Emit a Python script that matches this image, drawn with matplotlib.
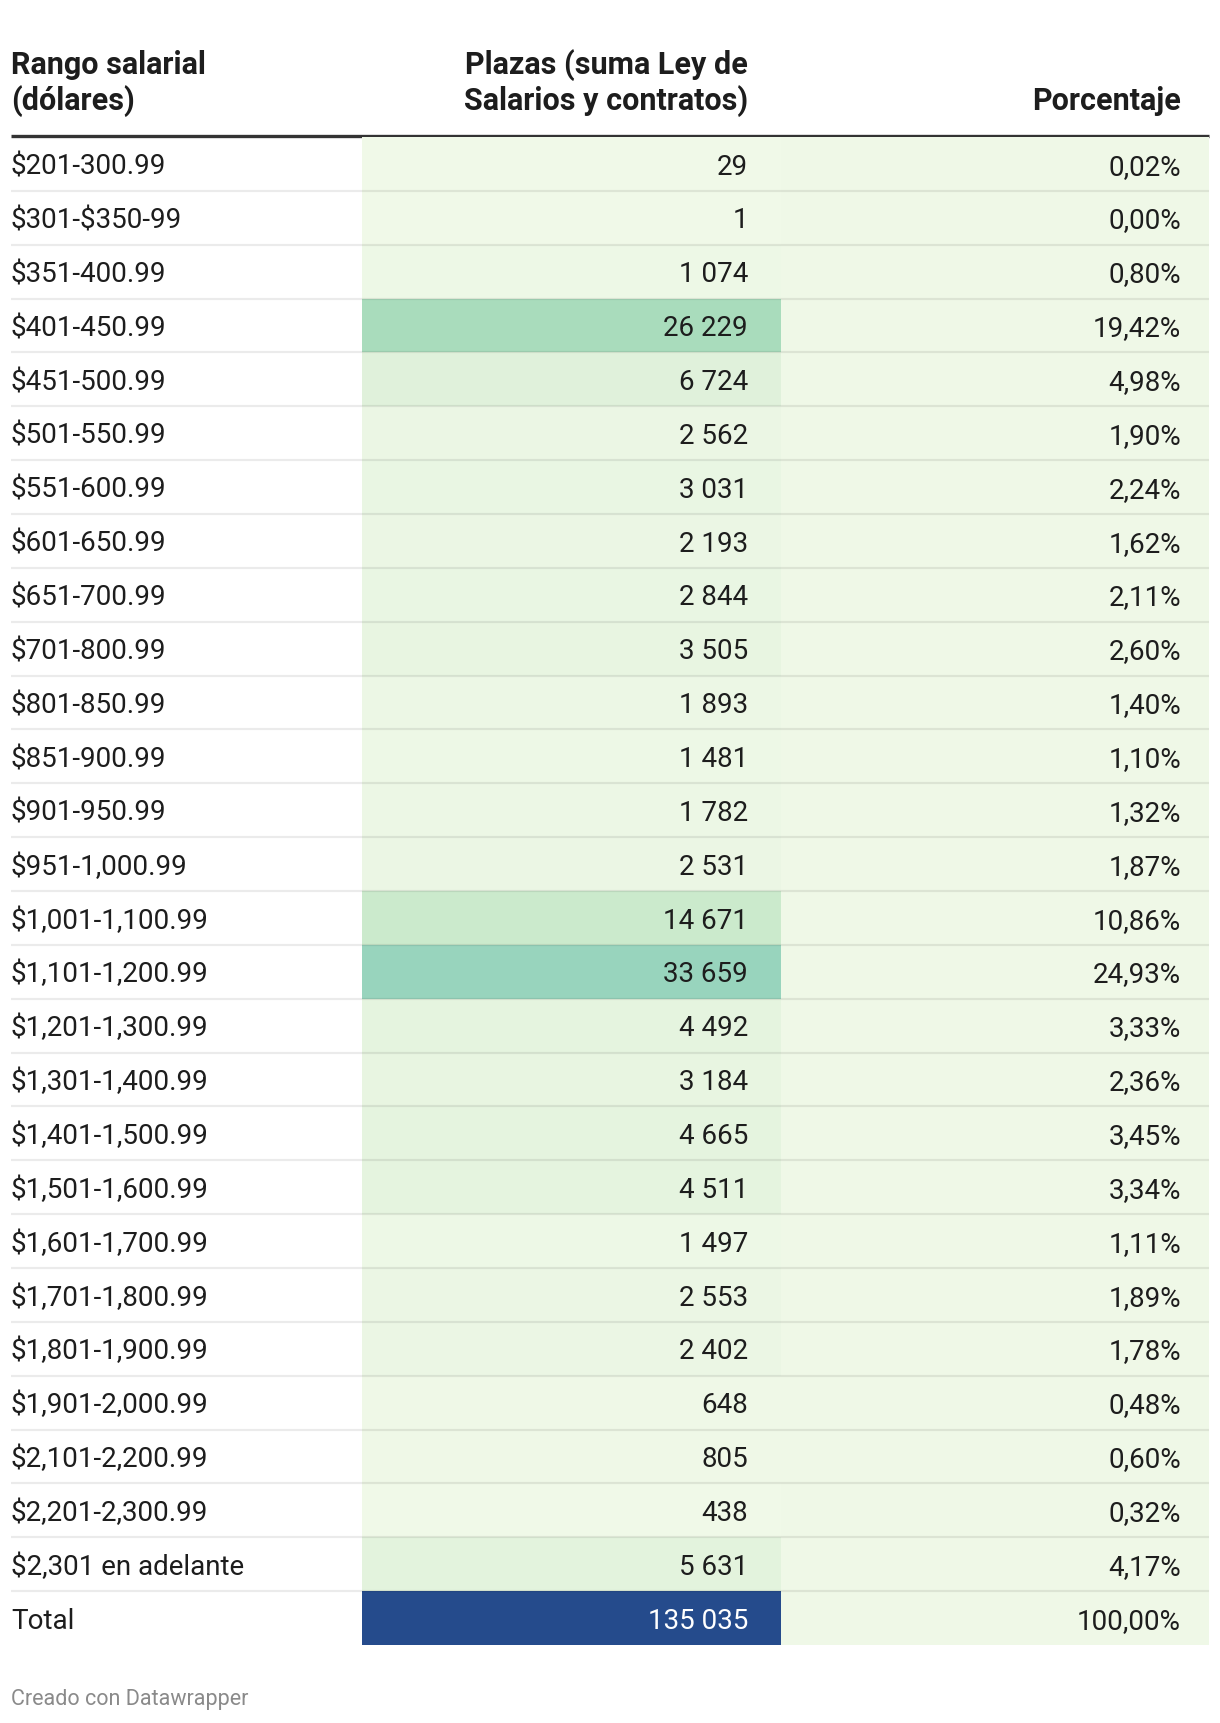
import numpy as np
import matplotlib
matplotlib.use("Agg")
import matplotlib.pyplot as plt
from matplotlib.colors import LinearSegmentedColormap

plt.rcParams['font.family'] = ['Roboto', 'DejaVu Sans']

# data
rangos = ["$201-300.99", "$301-$350-99", "$351-400.99", "$401-450.99", "$451-500.99",
          "$501-550.99", "$551-600.99", "$601-650.99", "$651-700.99", "$701-800.99",
          "$801-850.99", "$851-900.99", "$901-950.99", "$951-1,000.99", "$1,001-1,100.99",
          "$1,101-1,200.99", "$1,201-1,300.99", "$1,301-1,400.99", "$1,401-1,500.99",
          "$1,501-1,600.99", "$1,601-1,700.99", "$1,701-1,800.99", "$1,801-1,900.99",
          "$1,901-2,000.99", "$2,101-2,200.99", "$2,201-2,300.99", "$2,301 en adelante", "Total"]
plazas = [29, 1, 1074, 26229, 6724, 2562, 3031, 2193, 2844, 3505, 1893, 1481, 1782, 2531,
          14671, 33659, 4492, 3184, 4665, 4511, 1497, 2553, 2402, 648, 805, 438, 5631, 135035]
porcentaje = [0.02, 0.00, 0.80, 19.42, 4.98, 1.90, 2.24, 1.62, 2.11, 2.60, 1.40, 1.10, 1.32,
              1.87, 10.86, 24.93, 3.33, 2.36, 3.45, 3.34, 1.11, 1.89, 1.78, 0.48, 0.60, 0.32,
              4.17, 100.00]
encabezados = [["Rango salarial", "(dólares)"],
               ["Plazas (suma Ley de", "Salarios y contratos)"],
               ["Porcentaje"]]

W, H = 1220, 1724
fig = plt.figure(figsize=(W / 100, H / 100), dpi=100)

# full-figure axes in pixel coords for header / footer
bg = fig.add_axes([0, 0, 1, 1])
bg.set_xlim(0, W)
bg.set_ylim(H, 0)
bg.axis('off')

TXT = '#1d1d1d'
FS = 20
x_left, x_c2, x_c2r, x_c3r, x_end = 11, 362, 781, 1181, 1209
x_c2t = 748

# header
hdr_kw = dict(fontsize=22, fontweight='bold', color=TXT, va='center', parse_math=False)
bg.text(x_left, 65, encabezados[0][0], ha='left', **hdr_kw)
bg.text(x_left, 101, encabezados[0][1], ha='left', **hdr_kw)
bg.text(x_c2t, 65, encabezados[1][0], ha='right', **hdr_kw)
bg.text(x_c2t, 101, encabezados[1][1], ha='right', **hdr_kw)
bg.text(x_c3r, 101, encabezados[2][0], ha='right', **hdr_kw)

bg.text(x_left, 1700, "Creado con Datawrapper", ha='left', va='center',
        fontsize=15.5, color='#8a8a8a')

# table body axes: x in pixels, y in rows
top, bottom = 138, 1646
n = len(rangos)
ax = fig.add_axes([0, 1 - bottom / H, 1, (bottom - top) / H])
ax.set_xlim(0, W)
ax.set_ylim(n, 0)
ax.axis('off')

cmap = LinearSegmentedColormap.from_list(
    'dw', [(0.0, '#f0f9e8'), (0.05, '#dff1da'), (0.11, '#c9e9cb'), (0.19, '#aadcbc'),
           (0.25, '#97d4bd'), (0.5, '#4ea9c6'), (0.75, '#2f74ad'), (1.0, '#254b8c')])
vmax = max(plazas)
colores = [cmap(v / vmax) for v in plazas]

rows = np.arange(n) + 0.5
ax.barh(rows, x_c2r - x_c2, left=x_c2, height=1.0, color=colores, linewidth=0)
ax.barh(rows, x_end - x_c2r, left=x_c2r, height=1.0, color='#eff8e7', linewidth=0)

# row separators
for i in range(1, n):
    ax.plot([x_left, x_end], [i, i], color='black', alpha=0.08, linewidth=1.6,
            solid_capstyle='butt')
# header rule
bg.plot([x_left, x_end], [136.5, 136.5], color='#333333', linewidth=2.4, solid_capstyle='butt')

for i, (r, p, pc) in enumerate(zip(rangos, plazas, porcentaje)):
    y = rows[i] + 0.18
    ax.text(x_left, y, r, ha='left', va='baseline', fontsize=FS, color=TXT, parse_math=False)
    col = 'white' if r == 'Total' else TXT
    ax.text(x_c2t, y, f"{p:,}".replace(",", " "), ha='right', va='baseline',
            fontsize=FS, color=col)
    ax.text(x_c3r, y, f"{pc:.2f}".replace(".", ",") + "%", ha='right', va='baseline',
            fontsize=FS, color=TXT)

fig.savefig("out.png", dpi=100, facecolor='white')
